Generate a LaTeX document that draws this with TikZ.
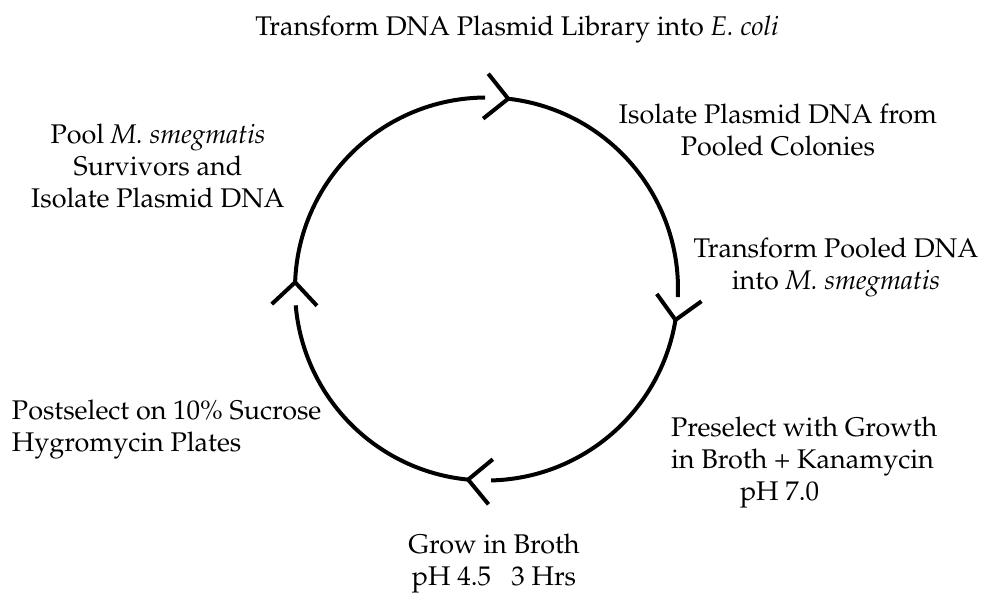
\documentclass[tikz,border=0pt]{standalone}
\usepackage[T1]{fontenc}
\usepackage{mathpazo}
\usetikzlibrary{calc}

\begin{document}
\begin{tikzpicture}[x=1pt, y=1pt, line width=4pt,
	every node/.style={font=\fontsize{27}{32}\selectfont, align=center, inner sep=0pt}]

\useasboundingbox (0,0) rectangle (984,598);

\def\rad{191.5}
\coordinate (c) at (486.5,309);

\newcommand\chev[2]{
	\coordinate (#1) at ($(c)+(#2:\rad)$);
	\draw (#1) -- ++(#2+45:32);
	\draw (#1) -- ++(#2+135:32);
}

\chev{t1}{83.5}
\chev{t2}{-9.3}
\chev{t3}{-95.5}
\chev{t4}{178}

\draw (t1) arc[start angle=83.5, end angle=-2.4, radius=\rad pt];
\draw (t2) arc[start angle=-9.3, end angle=-88.6, radius=\rad pt];
\draw (t3) arc[start angle=-95.5, end angle=-175.1, radius=\rad pt];
\draw (t4) arc[start angle=178, end angle=90.4, radius=\rad pt];

\node (title) at (517,568) {Transform DNA Plasmid Library into \textit{E. coli}};
\node (pool) at (158,432) {Pool \textit{M. smegmatis}\\Survivors and\\Isolate Plasmid DNA};
\node (iso) at (778,468) {Isolate Plasmid DNA from\\Pooled Colonies};
\node (trans) at (836,331) {Transform Pooled DNA\\into \textit{M. smegmatis}};
\node[anchor=west, align=left] (post) at (10,168) {Postselect on 10\% Sucrose\\Hygromycin Plates};
\node[anchor=west, align=left] (pre) at (669,135) {Preselect with Growth\\in Broth + Kanamycin\\\hspace*{69pt}pH 7.0};
\node (grow) at (494,34) {Grow in Broth\\pH 4.5\ \ \ 3 Hrs};

\end{tikzpicture}
\end{document}
